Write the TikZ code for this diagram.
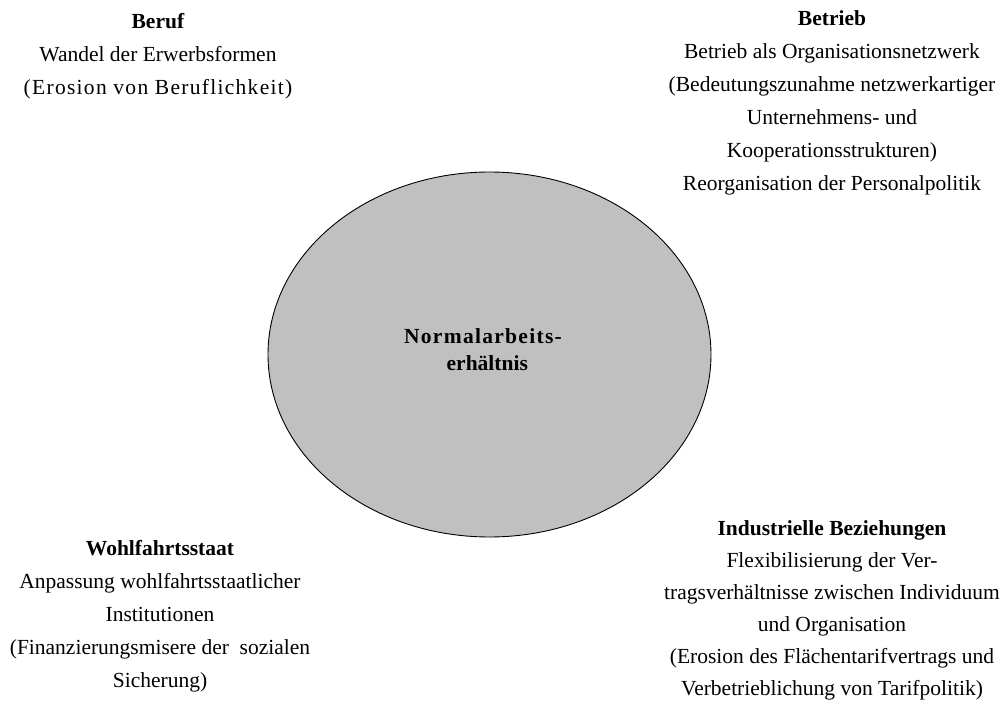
\documentclass[tikz,border=0pt]{standalone}
\usepackage{fontspec}
\setmainfont{Liberation Serif}
\usepackage{tikz}
\usetikzlibrary{shapes.geometric}
\definecolor{kerngrau}{RGB}{192,192,192}
\newcommand{\weit}[1]{{\addfontfeature{LetterSpace=6}#1}}
\tikzset{
	feld/.style={align=center, inner sep=0pt, font=\fontsize{21.5}{33}\selectfont},
	kern/.style={ellipse, draw=black, line width=0.9pt, fill=kerngrau, minimum width=443pt, minimum height=365pt, inner sep=0pt}
}

\begin{document}
\begin{tikzpicture}[x=1pt, y=-1pt]
			%%%%% START %%%%%
			\useasboundingbox (0, 0) rectangle (1005, 722);
			
			\node[kern] (ellipse) at (489.5, 354.5) {};
			\node[feld, font=\fontsize{21.5}{27}\selectfont\bfseries] (nae) at (483, 350) {\weit{Normalarbeits-}\\\hspace*{0.4em}erhältnis};
			
			\node[feld] (beruf) at (158, 56) {\textbf{Beruf}\\Wandel der Erwerbsformen\\\weit{(Erosion von Beruflichkeit)}};
			
			\node[feld] (betrieb) at (832, 103) {\textbf{Betrieb}\\Betrieb als Organisationsnetzwerk\\(Bedeutungszunahme netzwerkartiger\\Unternehmens- und\\Kooperationsstrukturen)\\Reorganisation der Personalpolitik};
			
			\node[feld] (staat) at (160, 616) {\textbf{Wohlfahrtsstaat}\\Anpassung wohlfahrtsstaatlicher\\Institutionen\\(Finanzierungsmisere der\ \ sozialen\\Sicherung)};
			
			\node[feld, font=\fontsize{21.5}{32}\selectfont] (ib) at (832, 610) {\textbf{Industrielle Beziehungen}\\Flexibilisierung der Ver-\\tragsverhältnisse zwischen Individuum\\und Organisation\\(Erosion des Flächentarifvertrags und\\Verbetrieblichung von Tarifpolitik)};
			
			%%%%% END %%%%%
\end{tikzpicture}
\end{document}
